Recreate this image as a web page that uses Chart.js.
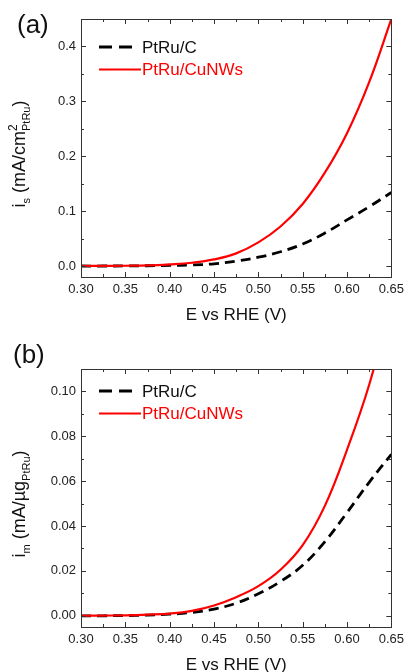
<!DOCTYPE html>
<html>
<head>
<meta charset="utf-8">
<script src="https://cdn.jsdelivr.net/npm/chart.js@4.4.1/dist/chart.umd.min.js"></script>
<style>
  body { margin: 0; background: #fff; width: 409px; height: 672px; overflow: hidden; position: relative; }
  .panel { position: absolute; left: 0; width: 409px; }
</style>
</head>
<body>
<div class="panel" style="top:0;height:330px"><canvas id="chartA"></canvas></div>
<div class="panel" style="top:335px;height:337px"><canvas id="chartB"></canvas></div>
<script>
// Potential axis (V vs RHE)
const potential = [0.30, 0.325, 0.35, 0.375, 0.40, 0.425, 0.45, 0.475, 0.50, 0.525, 0.55, 0.575, 0.60, 0.625, 0.65];

// (a) specific activity, mA/cm2
const specPtRuC    = [0, 0, 0.0002, 0.0005, 0.001, 0.002, 0.004, 0.009, 0.016, 0.026, 0.040, 0.060, 0.084, 0.108, 0.134];
const specPtRuCuNW = [0, 0.0002, 0.0005, 0.001, 0.003, 0.006, 0.012, 0.023, 0.043, 0.072, 0.113, 0.170, 0.242, 0.335, 0.45];

// (b) mass activity, mA/ug
const massPtRuC    = [0, 0, 0.0001, 0.0003, 0.0007, 0.0015, 0.003, 0.0056, 0.0098, 0.0153, 0.0225, 0.0330, 0.046, 0.0595, 0.072];
const massPtRuCuNW = [0, 0.0001, 0.0002, 0.0005, 0.001, 0.0022, 0.0046, 0.0083, 0.0132, 0.0205, 0.0315, 0.049, 0.074, 0.103, 0.14];

// tick labels
const xTicks = [0.30, 0.35, 0.40, 0.45, 0.50, 0.55, 0.60, 0.65];
const xMinor = [0.325, 0.375, 0.425, 0.475, 0.525, 0.575, 0.625];
const yTicksA = [0.0, 0.1, 0.2, 0.3, 0.4];
const yMinorA = [0.05, 0.15, 0.25, 0.35];
const yTicksB = [0.00, 0.02, 0.04, 0.06, 0.08, 0.10];
const yMinorB = [0.01, 0.03, 0.05, 0.07, 0.09];

const seriesNames = ['PtRu/C', 'PtRu/CuNWs'];

Chart.defaults.font.family = '"Liberation Sans", Arial, sans-serif';
Chart.defaults.color = '#222';

function toPoints(ys) {
  return potential.map((x, i) => ({ x: x, y: ys[i] }));
}

// draws text made of runs with sub/superscripts, optionally rotated
function drawRich(ctx, runs, x, y, rotate) {
  const family = Chart.defaults.font.family;
  let total = 0;
  runs.forEach(r => {
    ctx.font = r.s + 'px ' + family;
    r.w = ctx.measureText(r.t).width;
    if (!r.stack) total += r.w;
  });
  ctx.save();
  ctx.translate(x, y);
  if (rotate) ctx.rotate(-Math.PI / 2);
  ctx.textBaseline = 'alphabetic';
  ctx.textAlign = 'left';
  let cx = -total / 2;
  runs.forEach(r => {
    ctx.font = r.s + 'px ' + family;
    ctx.fillText(r.t, cx, r.dy || 0);
    if (!r.stack) cx += r.w;
  });
  ctx.restore();
}

const framePlugin = {
  id: 'frame',
  afterDraw(chart, args, o) {
    const { ctx, chartArea: a, scales: { x, y } } = chart;
    ctx.save();
    ctx.strokeStyle = '#333';
    ctx.lineWidth = 1;
    ctx.strokeRect(Math.round(a.left) + 0.5, Math.round(a.top) + 0.5,
      Math.round(a.right - a.left), Math.round(a.bottom - a.top));

    // inward ticks on all four sides
    ctx.beginPath();
    const tick = (vals, len, axis) => vals.forEach(v => {
      if (axis === 'x') {
        const px = Math.round(x.getPixelForValue(v)) + 0.5;
        ctx.moveTo(px, a.bottom); ctx.lineTo(px, a.bottom - len);
        ctx.moveTo(px, a.top); ctx.lineTo(px, a.top + len);
      } else {
        const py = Math.round(y.getPixelForValue(v)) + 0.5;
        ctx.moveTo(a.left, py); ctx.lineTo(a.left + len, py);
        ctx.moveTo(a.right, py); ctx.lineTo(a.right - len, py);
      }
    });
    tick(xTicks, 5, 'x');
    tick(xMinor, 3, 'x');
    tick(o.yMajor, 5, 'y');
    tick(o.yMinor, 3, 'y');
    ctx.stroke();

    // legend
    const ds = chart.data.datasets;
    ds.forEach((d, i) => {
      const ly = a.top + o.legendTop + i * 22.5;
      ctx.beginPath();
      ctx.strokeStyle = d.borderColor;
      ctx.lineWidth = d.borderWidth;
      ctx.setLineDash(d.borderDash ? [13, 7] : []);
      ctx.moveTo(a.left + 18, ly);
      ctx.lineTo(a.left + (d.borderDash ? 51 : 60), ly);
      ctx.stroke();
      ctx.setLineDash([]);
      ctx.fillStyle = d.borderColor === '#000000' ? '#111' : d.borderColor;
      ctx.font = '17px ' + Chart.defaults.font.family;
      ctx.textBaseline = 'middle';
      ctx.fillText(d.label, a.left + 61, ly + 1);
    });

    // axis titles and panel label
    ctx.fillStyle = '#111';
    drawRich(ctx, [{ t: 'E vs RHE (V)', s: 17 }], (a.left + a.right) / 2, o.xTitleY, false);
    drawRich(ctx, o.yTitle, 25, (a.top + a.bottom) / 2 + 6, true);
    ctx.font = '26px ' + Chart.defaults.font.family;
    ctx.textBaseline = 'alphabetic';
    ctx.fillText(o.panel, o.panelX, o.panelY);
    ctx.restore();
  }
};

function makeChart(id, blackData, redData, cfg) {
  return new Chart(document.getElementById(id), {
    type: 'line',
    data: {
      datasets: [
        {
          label: seriesNames[0],
          data: toPoints(blackData),
          borderColor: '#000000',
          borderWidth: 2.8,
          borderDash: [10, 6],
          pointRadius: 0,
          tension: 0.4,
          order: 1
        },
        {
          label: seriesNames[1],
          data: toPoints(redData),
          borderColor: '#ff0000',
          borderWidth: 2.2,
          pointRadius: 0,
          tension: 0.4,
          order: 0
        }
      ]
    },
    options: {
      responsive: true,
      maintainAspectRatio: false,
      animation: false,
      layout: { padding: { top: cfg.padTop, right: 14, left: 0, bottom: 0 } },
      plugins: {
        legend: { display: false },
        tooltip: { enabled: false },
        frame: cfg.frame
      },
      scales: {
        x: {
          type: 'linear',
          min: 0.30,
          max: 0.65,
          grid: { display: false, drawTicks: false },
          border: { display: false },
          afterBuildTicks: s => { s.ticks = xTicks.map(v => ({ value: v })); },
          afterFit: s => { s.height = cfg.xHeight; },
          ticks: { padding: 5, font: { size: 13 }, maxRotation: 0, autoSkip: false,
            callback: v => v.toFixed(2) }
        },
        y: {
          type: 'linear',
          min: cfg.yMin,
          max: cfg.yMax,
          grid: { display: false, drawTicks: false },
          border: { display: false },
          afterBuildTicks: s => { s.ticks = cfg.frame.yMajor.map(v => ({ value: v })); },
          afterFit: s => { s.width = 81; },
          ticks: { padding: 5, font: { size: 13 }, autoSkip: false,
            callback: v => v.toFixed(cfg.digits) }
        }
      }
    },
    plugins: [framePlugin]
  });
}

makeChart('chartA', specPtRuC, specPtRuCuNW, {
  padTop: 19, xHeight: 53, yMin: -0.02, yMax: 0.45, digits: 1,
  frame: {
    yMajor: yTicksA, yMinor: yMinorA, legendTop: 28, xTitleY: 320,
    panel: '(a)', panelX: 17, panelY: 33,
    yTitle: [
      { t: 'i', s: 18 }, { t: 's', s: 11, dy: 5 }, { t: ' (mA/cm', s: 18 },
      { t: '2', s: 12, dy: -8, stack: true }, { t: 'PtRu', s: 11, dy: 5 }, { t: ')', s: 18 }
    ]
  }
});

makeChart('chartB', massPtRuC, massPtRuCuNW, {
  padTop: 34, xHeight: 45, yMin: -0.005, yMax: 0.11, digits: 2,
  frame: {
    yMajor: yTicksB, yMinor: yMinorB, legendTop: 22, xTitleY: 335,
    panel: '(b)', panelX: 13, panelY: 28,
    yTitle: [
      { t: 'i', s: 18 }, { t: 'm', s: 11, dy: 5 }, { t: ' (mA/\u00b5g', s: 18 },
      { t: 'PtRu', s: 11, dy: 5 }, { t: ')', s: 18 }
    ]
  }
});
</script>
</body>
</html>
